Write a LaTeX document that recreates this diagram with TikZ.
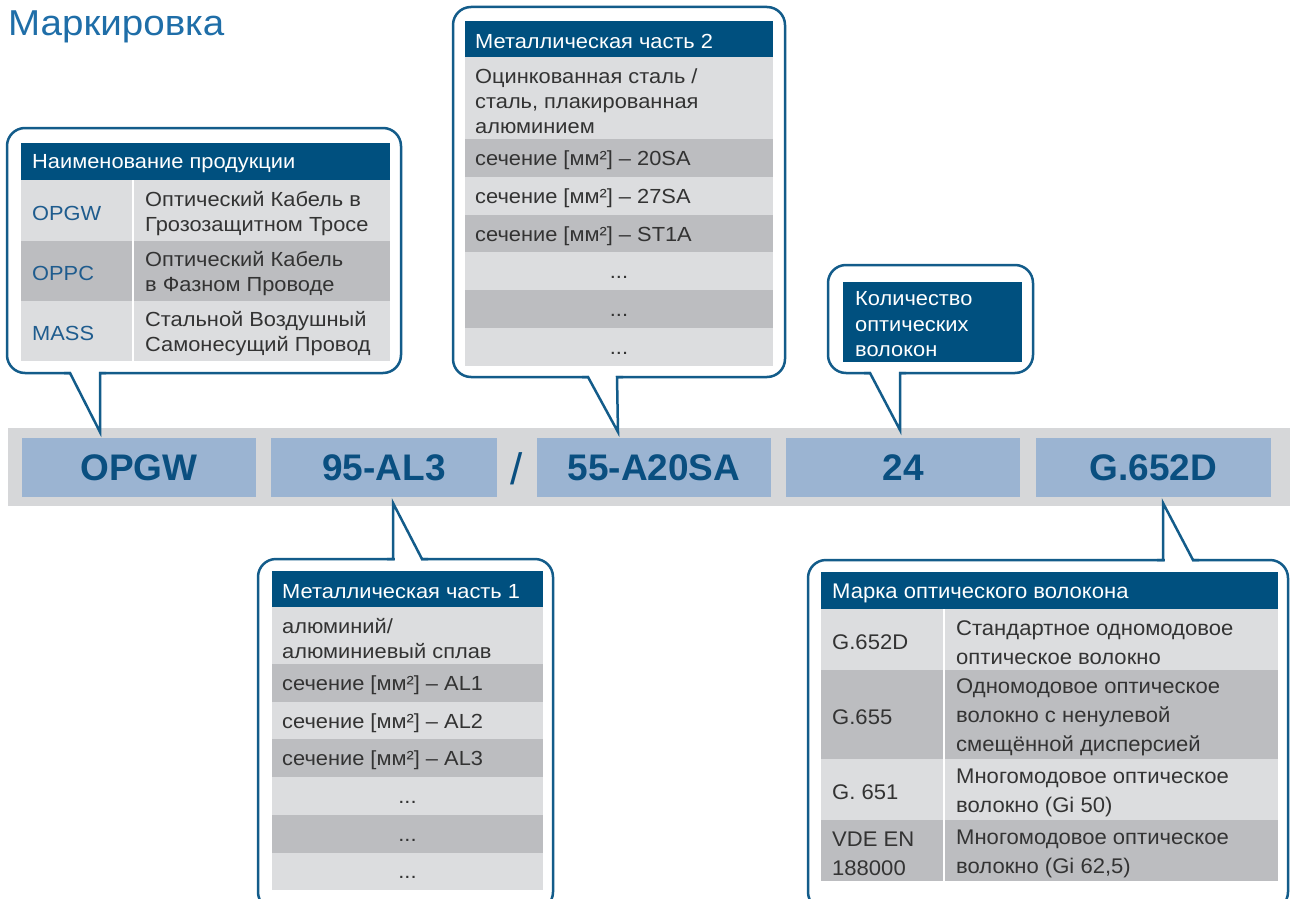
\documentclass[tikz,border=0pt]{standalone}
\usepackage{fontspec}
\setmainfont{Liberation Sans}
\newfontfamily\widefont[FakeStretch=1.07]{Liberation Sans}
\newfontfamily\widefontb[FakeStretch=1.04]{Liberation Sans}
\definecolor{hdr}{HTML}{00507F}
\definecolor{outl}{HTML}{135C8A}
\definecolor{rowL}{HTML}{DCDDDF}
\definecolor{rowD}{HTML}{BCBDC0}
\definecolor{bargray}{HTML}{D6D7D9}
\definecolor{boxblue}{HTML}{9BB4D2}
\definecolor{codeblue}{HTML}{0A4F80}
\definecolor{txtgray}{HTML}{333333}
\definecolor{keyblue}{HTML}{1F5C8E}
\definecolor{titleblue}{HTML}{1F6EA8}
\newcommand\tfont{\widefont\fontsize{20.4}{25}\selectfont}
\newcommand\tfontb{\widefontb\fontsize{21.2}{29}\selectfont}
\newcommand\codefont{\fontsize{37}{37}\selectfont\bfseries}
\tikzset{
  codebox/.style={fill=boxblue, minimum height=59, inner sep=0, text=codeblue, font=\codefont},
  callout/.style={draw=outl, line width=2.5, rounded corners=18, fill=white},
  pointer/.style={draw=outl, line width=2.5, line join=miter},
  txt/.style={anchor=west, inner sep=0, align=left, text=txtgray, font=\tfont, yshift=-2.5pt},
  txtb/.style={anchor=west, inner sep=0, align=left, text=txtgray, font=\tfontb, yshift=-2.5pt},
  key/.style={txt, text=keyblue},
  htxt/.style={txt, text=white},
  htxtb/.style={txtb, text=white},
  dots/.style={inner sep=0, text=txtgray, font=\tfont},
  divider/.style={draw=white, line width=2}
}
\begin{document}
\begin{tikzpicture}[x=1pt,y=-1pt]
\useasboundingbox (0,0) rectangle (1290,899);

% title
\node[anchor=base west, inner sep=0, text=titleblue, font=\widefont\fontsize{36}{37}\selectfont] (title) at (8,36) {Маркировка};

% code bar
\fill[bargray] (8,428) rectangle (1290,506);
\node[codebox, minimum width=234] (b1) at (139,467.5) {OPGW};
\node[codebox, minimum width=226] (b2) at (384,467.5) {95-AL3};
\node[inner sep=0, text=codeblue, font=\fontsize{44}{44}\selectfont] (slash) at (517,469) {/};
\node[codebox, minimum width=234] (b3) at (654,467.5) {55-A20SA};
\node[codebox, minimum width=234] (b4) at (903,467.5) {24};
\node[codebox, minimum width=235] (b5) at (1153.5,467.5) {G.652D};

% ---------- callout 1 : product name
\draw[callout] (7,128) rectangle (401,373);
\fill[white] (71,369) rectangle (99,377);
\coordinate (t1) at (100,432);
\draw[pointer] (64,373) -- (70,373) -- (t1) -- (100,373) -- (106,373);
\fill[hdr] (21,143) rectangle (390,180);
\fill[rowL] (21,180) rectangle (390,241);
\fill[rowD] (21,241) rectangle (390,301);
\fill[rowL] (21,301) rectangle (390,361);
\draw[divider] (133,180) -- (133,361);
\node[htxt] (h1) at (32,161.5) {Наименование продукции};
\node[key] (k11) at (32,211) {OPGW};
\node[txt] (d11) at (145,211) {Оптический Кабель в\\Грозозащитном Тросе};
\node[key] (k12) at (32,271) {OPPC};
\node[txt] (d12) at (145,271) {Оптический Кабель\\в Фазном Проводе};
\node[key] (k13) at (32,331) {MASS};
\node[txt] (d13) at (145,331) {Стальной Воздушный\\Самонесущий Провод};

% ---------- callout 2 : metal part 2
\draw[callout] (453,7) rectangle (785,377);
\fill[white] (589,373) rectangle (616,381);
\coordinate (t2) at (618,432);
\draw[pointer] (582,377) -- (588,377) -- (t2) -- (617,377) -- (623,377);
\fill[hdr] (465,21) rectangle (773,57);
\fill[rowL] (465,57) rectangle (773,139);
\fill[rowD] (465,139) rectangle (773,177);
\fill[rowL] (465,177) rectangle (773,215);
\fill[rowD] (465,215) rectangle (773,252);
\fill[rowL] (465,252) rectangle (773,290);
\fill[rowD] (465,290) rectangle (773,328);
\fill[rowL] (465,328) rectangle (773,366);
\node[htxt] (h2) at (475,39) {Металлическая часть 2};
\node[txt] (m21) at (475,98.5) {Оцинкованная сталь /\\сталь, плакированная\\алюминием};
\node[txt] (m22) at (475,158) {сечение [мм²] – 20SA};
\node[txt] (m23) at (475,196) {сечение [мм²] – 27SA};
\node[txt] (m24) at (475,233.5) {сечение [мм²] – ST1A};
\node[dots] (m25) at (619,277) {...};
\node[dots] (m26) at (619,315) {...};
\node[dots] (m27) at (619,353) {...};

% ---------- callout 3 : fibre count
\draw[callout] (828,265) rectangle (1033,373);
\fill[white] (871,369) rectangle (899,377);
\coordinate (t3) at (900,430);
\draw[pointer] (864,373) -- (870,373) -- (t3) -- (900,373) -- (906,373);
\fill[hdr] (843,282) rectangle (1022,362);
\node[htxt, font=\widefont\fontsize{20.4}{25.5}\selectfont] (c3) at (855,322) {Количество\\оптических\\волокон};

% ---------- callout 4 : metal part 1
\draw[callout] (258,559) rectangle (553,910);
\fill[white] (394.5,555) rectangle (421,563);
\coordinate (t4) at (393,503);
\draw[pointer] (387,559) -- (393,559) -- (t4) -- (422,559) -- (428,559);
\fill[hdr] (272,571) rectangle (543,607);
\fill[rowL] (272,607) rectangle (543,664);
\fill[rowD] (272,664) rectangle (543,702);
\fill[rowL] (272,702) rectangle (543,739);
\fill[rowD] (272,739) rectangle (543,777);
\fill[rowL] (272,777) rectangle (543,815);
\fill[rowD] (272,815) rectangle (543,853);
\fill[rowL] (272,853) rectangle (543,890);
\node[htxt] (h4) at (282,589) {Металлическая часть 1};
\node[txt] (m11) at (282,636) {алюминий/\\алюминиевый сплав};
\node[txt] (m12) at (282,683) {сечение [мм²] – AL1};
\node[txt] (m13) at (282,720.5) {сечение [мм²] – AL2};
\node[txt] (m14) at (282,758) {сечение [мм²] – AL3};
\node[dots] (m15) at (407.5,802) {...};
\node[dots] (m16) at (407.5,840) {...};
\node[dots] (m17) at (407.5,877.5) {...};

% ---------- callout 5 : fibre grade
\draw[callout] (808,560) rectangle (1288,910);
\fill[white] (1164.5,556) rectangle (1192,564);
\coordinate (t5) at (1163,503);
\draw[pointer] (1157,560) -- (1163,560) -- (t5) -- (1193,560) -- (1199,560);
\fill[hdr] (821,572) rectangle (1278,609);
\fill[rowL] (821,609) rectangle (1278,670);
\fill[rowD] (821,670) rectangle (1278,759);
\fill[rowL] (821,759) rectangle (1278,820);
\fill[rowD] (821,820) rectangle (1278,881);
\draw[divider] (944,609) -- (944,881);
\node[htxtb] (h5) at (832,590.5) {Марка оптического волокона};
\node[txtb] (g1) at (832,640) {G.652D};
\node[txtb] (e1) at (956,640) {Стандартное одномодовое\\оптическое волокно};
\node[txtb] (g2) at (832,715) {G.655};
\node[txtb] (e2) at (956,715) {Одномодовое оптическое\\волокно с ненулевой\\смещённой дисперсией};
\node[txtb] (g3) at (832,790) {G. 651};
\node[txtb] (e3) at (956,790) {Многомодовое оптическое\\волокно (Gi 50)};
\node[txtb] (g4) at (832,851) {VDE EN\\188000};
\node[txtb] (e4) at (956,851) {Многомодовое оптическое\\волокно (Gi 62,5)};
\end{tikzpicture}
\end{document}
